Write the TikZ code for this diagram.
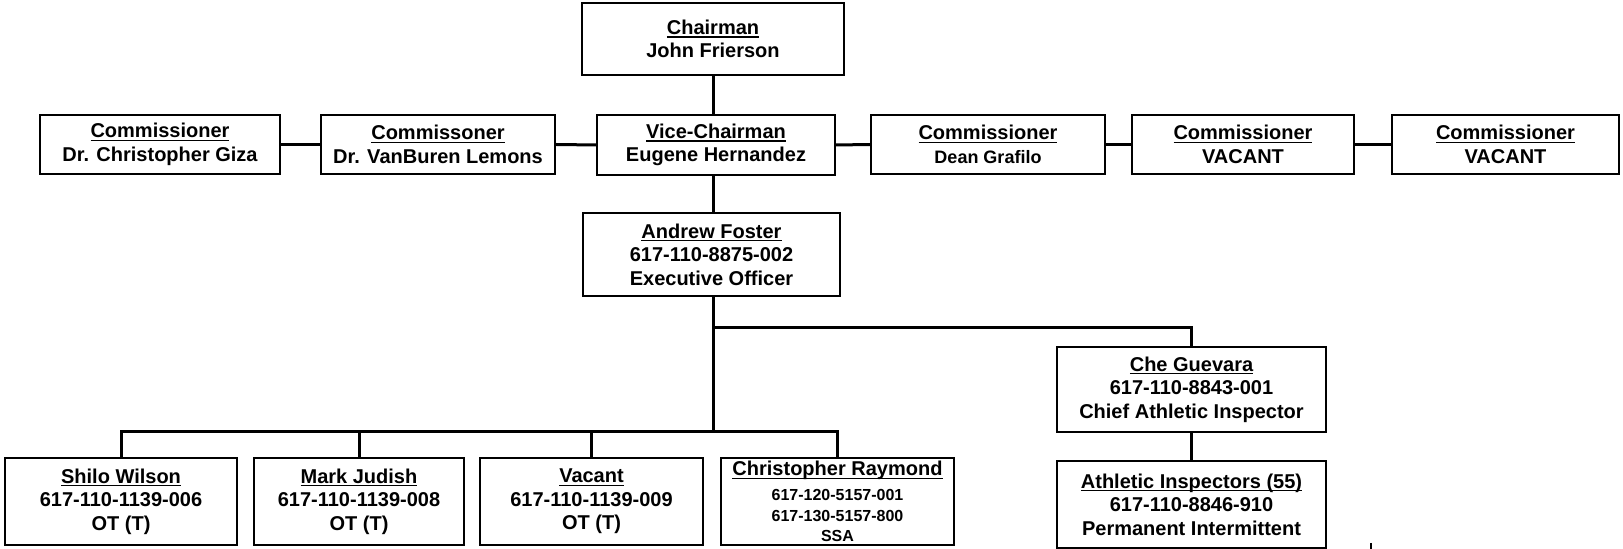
\documentclass[tikz,border=0pt]{standalone}
\usepackage{fontspec}
\setmainfont{Liberation Sans}
\usetikzlibrary{positioning}
\newcommand{\uln}[1]{\setbox0\hbox{#1}\rlap{\rule[-1.6pt]{\wd0}{0.6pt}}\box0}
\begin{document}
\begin{tikzpicture}[
    x=0.5pt, y=-0.5pt,
    post/.style={draw, line width=0.8pt, inner sep=0pt, align=center, font=\bfseries\fontsize{10}{11.7}\selectfont},
    link/.style={line width=1.5pt}
  ]
  \useasboundingbox (0,0) rectangle (1623,549);

  \node[post, minimum width=131pt, minimum height=36pt] (chair) at (713,39) {\uln{Chairman}\\John Frierson};
  \node[post, minimum width=119pt, minimum height=30pt] (vice) at (716,145) {\uln{Vice-Chairman}\\Eugene Hernandez};

  \node[post, minimum width=120pt, minimum height=29.5pt] (giza) at (160,144.5) {\uln{Commissioner}\\Dr. Christopher Giza};
  \node[post, minimum width=117pt, minimum height=29.5pt] (lemons) at (438,144.5) {\uln{Commissoner}\\Dr. VanBuren Lemons};
  \node[post, minimum width=117pt, minimum height=29.5pt] (dean) at (988,144.5) {\uln{Commissioner}\\{\fontsize{9}{11}\selectfont Dean Grafilo}};
  \node[post, minimum width=111pt, minimum height=29.5pt] (vaca) at (1243,144.5) {\uln{Commissioner}\\VACANT};
  \node[post, minimum width=113.5pt, minimum height=29.5pt] (vacb) at (1505.5,144.5) {\uln{Commissioner}\\VACANT};

  \node[post, minimum width=128.5pt, minimum height=41.5pt] (foster) at (711.5,254.5) {\uln{Andrew Foster}\\617-110-8875-002\\Executive Officer};

  \node[post, minimum width=134.5pt, minimum height=42.5pt] (che) at (1191.5,389.5) {\uln{Che Guevara}\\617-110-8843-001\\Chief Athletic Inspector};
  \node[post, minimum width=134.5pt, minimum height=43.5pt] (insp) at (1191.5,504.5) {\uln{Athletic Inspectors (55)}\\617-110-8846-910\\Permanent Intermittent};

  \node[post, minimum width=116pt, minimum height=43.5pt] (shilo) at (121,501.5) {\uln{Shilo Wilson}\\617-110-1139-006\\OT (T)};
  \node[post, minimum width=105pt, minimum height=43.5pt] (mark) at (359,501.5) {\uln{Mark Judish}\\617-110-1139-008\\OT (T)};
  \node[post, minimum width=111.5pt, minimum height=43.5pt] (vacant) at (591.5,501.5) {\uln{Vacant}\\617-110-1139-009\\OT (T)};
  \node[post, minimum width=116.5pt, minimum height=43.5pt] (raymond) at (837.5,501.5) {\uln{Christopher Raymond}\\[1pt]{\fontsize{8}{9.2}\selectfont 617-120-5157-001}\\[-1.5pt]{\fontsize{8}{9.2}\selectfont 617-130-5157-800}\\[-1.5pt]{\fontsize{8}{9.2}\selectfont SSA}};

  \coordinate (bus-hi) at (713,328);
  \coordinate (bus-lo) at (713,432);
  \coordinate (tick) at (1371,543);

  \draw[link] (chair.south) -- (chair.south |- vice.north);
  \draw[link] (chair.south |- vice.south) -- (chair.south |- foster.north);
  \draw[link] (chair.south |- foster.south) -- (bus-lo);
  \draw[link] (bus-hi) -| (che.north);
  \draw[link] (che) -- (insp);
  \draw[link] (shilo.north) |- (raymond.north |- bus-lo) -- (raymond.north);
  \foreach \n in {mark,vacant}
    \draw[link] (\n.north) -- (\n.north |- bus-lo);
  \foreach \a/\b in {giza/lemons,lemons/vice,vice/dean,dean/vaca,vaca/vacb}
    \draw[link] (\a.east) -- (\b.west);
  \draw[line width=0.8pt] (tick) -- ++(0,6);

\end{tikzpicture}
\end{document}
